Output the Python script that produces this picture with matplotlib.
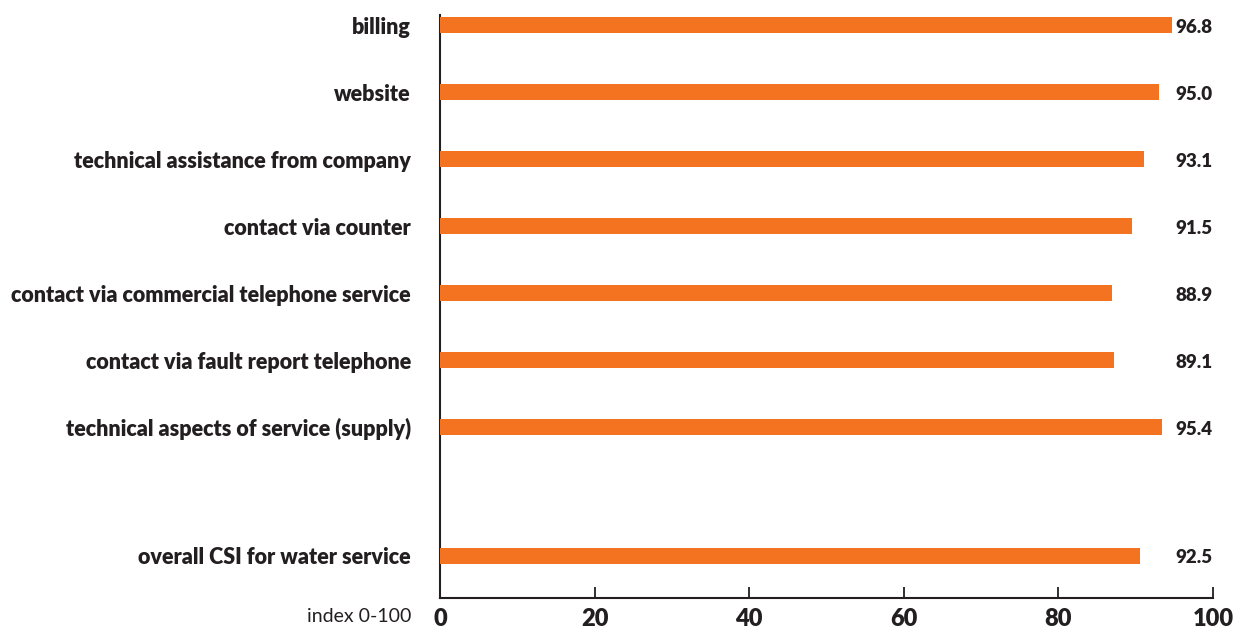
import numpy as np
import matplotlib
matplotlib.use("Agg")
import matplotlib.pyplot as plt

# data
categories = [
    "billing",
    "website",
    "technical assistance from company",
    "contact via counter",
    "contact via commercial telephone service",
    "contact via fault report telephone",
    "technical aspects of service (supply)",
    "overall CSI for water service",
]
values = [96.8, 95.0, 93.1, 91.5, 88.9, 89.1, 95.4, 92.5]
xticks = [0, 20, 40, 60, 80, 100]

orange = "#F37321"
dark = "#231F20"
plt.rcParams["font.family"] = ["Lato", "DejaVu Sans"]

fig = plt.figure(figsize=(12.39, 6.3), dpi=100)
ax = fig.add_axes([440 / 1239, 1 - 598 / 630, (1213 - 440) / 1239, (598 - 15) / 630])

# gap before the overall index
ypos = np.r_[np.arange(len(values) - 1), len(values) - 0.08]

# the original draws the bars on a slightly wider scale than the axis
axb = ax.twiny()
axb.set_xlim(0, 102.2)
axb.axis("off")
axb.barh(ypos, values, height=0.24, color=orange)
axb.set_ylim(8.55, -0.15)

for y, v in zip(ypos, values):
    ax.text(100, y + 0.03, f"{v:.1f}", ha="right", va="center",
            fontsize=13.5, fontweight="heavy", color=dark)

ax.set_xlim(0, 100)
ax.set_ylim(8.55, -0.15)
ax.set_xticks(xticks)
ax.set_xticklabels([str(t) for t in xticks], fontsize=17, fontweight="heavy", color=dark)
ax.set_yticks(ypos)
ax.set_yticklabels(categories, fontsize=15.5, fontweight="heavy", color=dark)
ax.tick_params(axis="x", direction="in", length=8, width=1.3, color=dark, pad=7)
ax.tick_params(axis="y", length=0, pad=21)
for s in ["top", "right"]:
    ax.spines[s].set_visible(False)
for s in ["left", "bottom"]:
    ax.spines[s].set_color(dark)
    ax.spines[s].set_linewidth(1.5)

fig.text(411 / 1239, 1 - 617 / 630, "index 0-100", ha="right", va="center",
         fontsize=14, color=dark)

fig.savefig("out.png", dpi=100)
